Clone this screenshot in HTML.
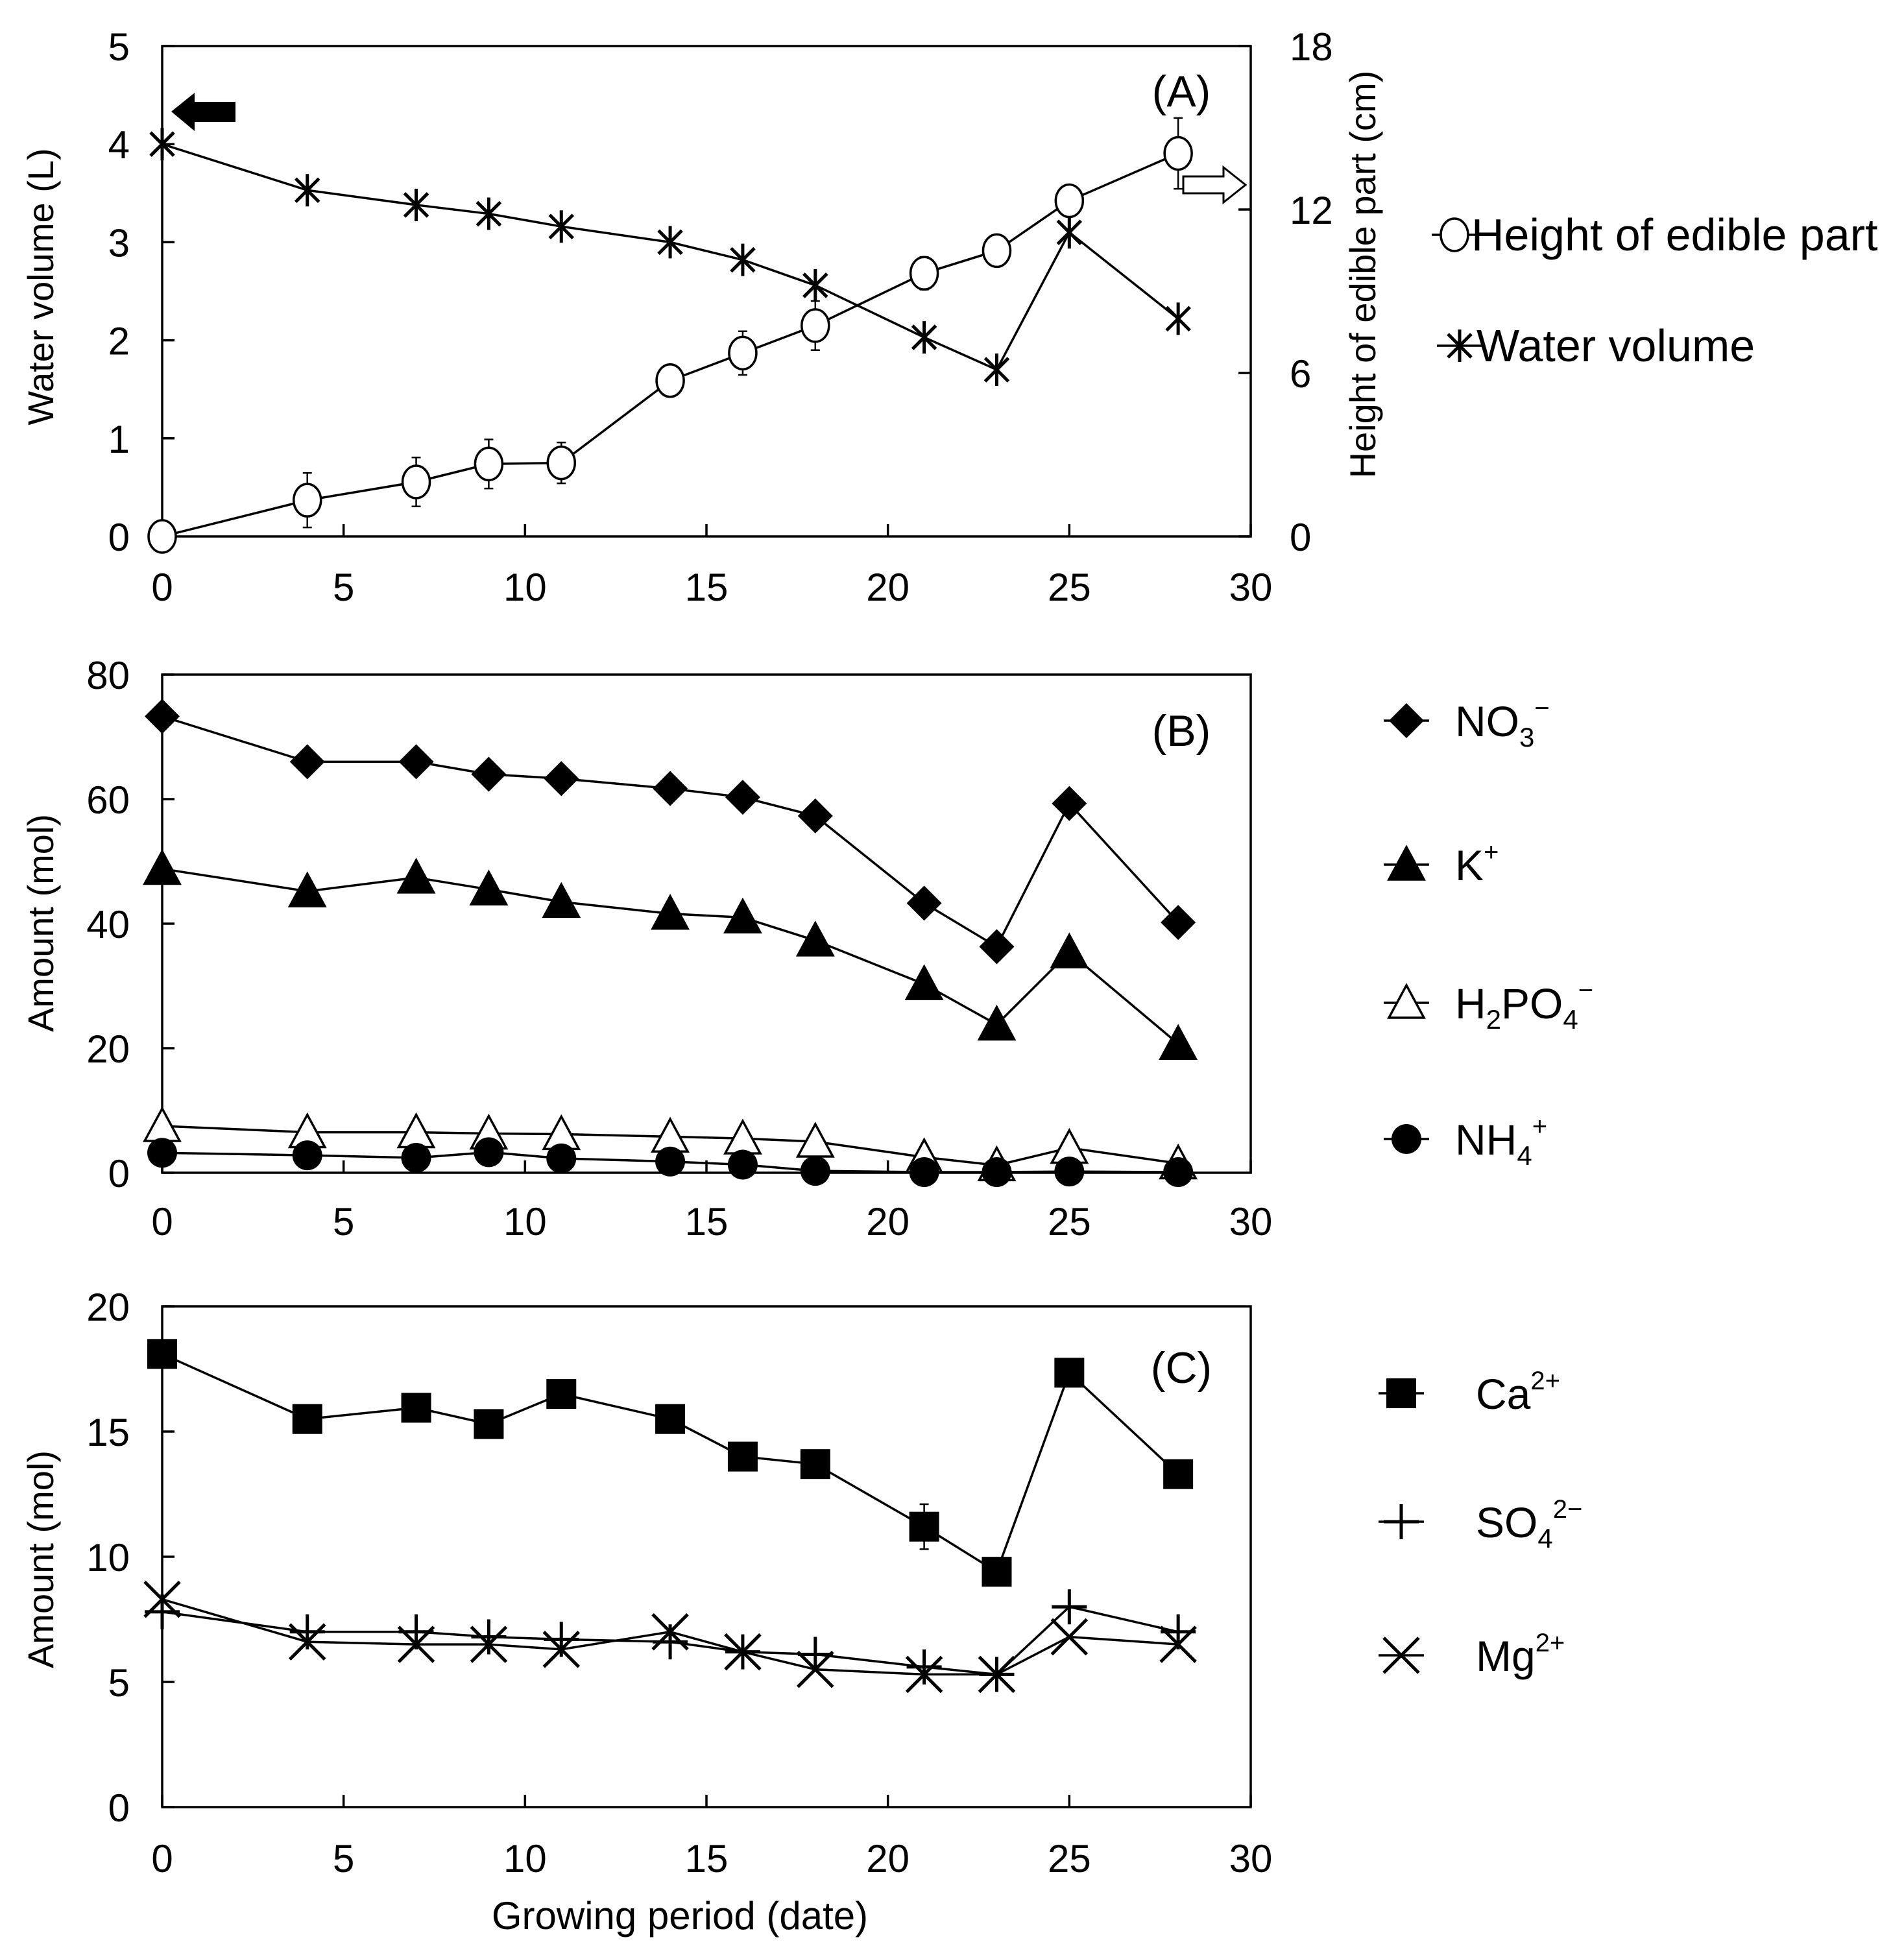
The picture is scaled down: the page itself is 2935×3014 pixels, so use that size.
<!DOCTYPE html>
<html><head><meta charset="utf-8"><style>
html,body{margin:0;padding:0;background:#fff;}
svg{display:block;font-family:"Liberation Sans",Arial,sans-serif;}
</style></head><body>
<svg id="fig" xmlns="http://www.w3.org/2000/svg" width="2935" height="3014" viewBox="0 0 2935 3014"></svg>
<script>
const days = [0,4,7,9,11,14,16,18,21,23,25,28];
const waterVolume = [4.0,3.53,3.38,3.29,3.16,3.0,2.82,2.56,2.03,1.7,3.1,2.22];
const heightEdible = [0,1.33,2.0,2.66,2.7,5.72,6.73,7.74,9.66,10.49,12.32,14.06];
const heightErr = [0,1.0,0.9,0.9,0.75,0.3,0.8,0.9,0.6,0.55,0.45,1.3];
const no3 = [73.3,66,66,64,63.3,61.7,60.3,57.3,43.3,36.3,59.3,40.2];
const kPlus = [48.8,45.2,47.4,45.5,43.5,41.6,41,37.3,30.3,23.8,35.4,20.7];
const h2po4 = [7.5,6.5,6.5,6.3,6.2,5.8,5.5,5.0,2.5,1.2,4,1.5];
const nh4 = [3.2,2.8,2.4,3.3,2.3,1.8,1.3,0.3,0.1,0.1,0.2,0.1];
const ca = [18.1,15.5,15.95,15.3,16.5,15.5,14.0,13.7,11.2,9.4,17.35,13.3];
const caErr = [0,0,0,0,0,0,0,0,0.9,0,0,0];
const so4 = [7.8,7.0,7.0,6.8,6.7,6.6,6.2,6.1,5.6,5.3,8.0,7.0];
const mg = [8.3,6.6,6.5,6.5,6.3,7.0,6.2,5.5,5.3,5.3,6.8,6.5];
const xTicks = [0,5,10,15,20,25,30];
const ticksA = [0,1,2,3,4,5];
const ticksAR = [0,6,12,18];
const ticksB = [0,20,40,60,80];
const ticksC = [0,5,10,15,20];

const NS="http://www.w3.org/2000/svg";
const svg=document.getElementById('fig');
function el(tag,attrs,parent){const e=document.createElementNS(NS,tag);for(const k in attrs)e.setAttribute(k,attrs[k]);(parent||svg).appendChild(e);return e;}
const X0=250,X1=1928;
function sx(v){return X0+(v/30)*(X1-X0);}
function mkY(y0,y1,max){return v=>y0-(v/max)*(y0-y1);}
const LW=3.5;
const TF=60;

function marker(type,x,y,g){
  const s=27;
  if(type==='circle'){el('ellipse',{cx:x,cy:y,rx:21,ry:25,fill:'#fff',stroke:'#000','stroke-width':LW},g);}
  else if(type==='diamond'){el('polygon',{points:`${x},${y-s} ${x+s},${y} ${x},${y+s} ${x-s},${y}`,fill:'#000'},g);}
  else if(type==='tri'||type==='otri'){el('polygon',{points:`${x},${y-s} ${x+s},${y+s*0.85} ${x-s},${y+s*0.85}`,fill:type==='tri'?'#000':'#fff',stroke:'#000','stroke-width':LW},g);}
  else if(type==='dot'){el('circle',{cx:x,cy:y,r:23,fill:'#000'},g);}
  else if(type==='square'){el('rect',{x:x-23,y:y-23,width:46,height:46,fill:'#000'},g);}
  else if(type==='plus'){el('path',{d:`M${x-s} ${y}H${x+s}M${x} ${y-s}V${y+s}`,stroke:'#000','stroke-width':LW+1.5,fill:'none'},g);}
  else if(type==='x'){el('path',{d:`M${x-s} ${y-s}L${x+s} ${y+s}M${x-s} ${y+s}L${x+s} ${y-s}`,stroke:'#000','stroke-width':LW+1.5,fill:'none'},g);}
  else if(type==='star'){const d=25,e=18;el('path',{d:`M${x} ${y-d}V${y+d}M${x-e} ${y-e}L${x+e} ${y+e}M${x-e} ${y+e}L${x+e} ${y-e}`,stroke:'#000','stroke-width':LW+1.5,fill:'none'},g);}
}
function series(name,vals,sy,type,errs){
  const g=el('g',{});
  
  
  el('polyline',{points:vals.map((v,i)=>sx(days[i])+','+sy(v)).join(' '),fill:'none',stroke:'#000','stroke-width':LW},g);
  if(errs){vals.forEach((v,i)=>{if(errs[i]>0){const x=sx(days[i]);el('path',{d:`M${x} ${sy(v+errs[i])}V${sy(v-errs[i])}M${x-7} ${sy(v+errs[i])}H${x+7}M${x-7} ${sy(v-errs[i])}H${x+7}`,stroke:'#000','stroke-width':2.5},g);}});}
  vals.forEach((v,i)=>marker(type,sx(days[i]),sy(v),g));
}
function text(str,x,y,size,anchor,name,extra){
  const t=el('text',Object.assign({x:x,y:y,'font-size':size,'text-anchor':anchor||'middle',fill:'#000'},extra||{}));
  t.textContent=str;
  
  
  return t;
}
function frame(name,y0,y1,sy,ticks,xLabY){
  const g=el('g',{});
  
  
  el('rect',{x:X0,y:y1,width:X1-X0,height:y0-y1,fill:'none',stroke:'#000','stroke-width':LW},g);
  xTicks.forEach(t=>{el('line',{x1:sx(t),x2:sx(t),y1:y0,y2:y0-19,stroke:'#000','stroke-width':LW},g);
    text(String(t),sx(t),xLabY,TF,'middle','x-tick-label');});
  ticks.forEach(t=>{el('line',{x1:X0,x2:X0+19,y1:sy(t),y2:sy(t),stroke:'#000','stroke-width':LW},g);
    text(String(t),200,sy(t)+22,TF,'end','y-tick-label');});
}

// Panel A
const syA=mkY(827,71,5), syAR=mkY(827,71,18);
frame('panel-a-axes',827,71,syA,ticksA,926);
ticksAR.forEach(t=>{el('line',{x1:X1,x2:X1-19,y1:syAR(t),y2:syAR(t),stroke:'#000','stroke-width':LW});
  text(String(t),1988,syAR(t)+22,TF,'start','right-y-tick-label');});
series('height-series',heightEdible,syAR,'circle',heightErr);
series('water-volume-series',waterVolume,syA,'star');
text('Water volume (L)',82,442,56,'middle','y-axis-title-a',{transform:'rotate(-90 82 442)'});
text('Height of edible part (cm)',2120,423,56,'middle','right-y-axis-title',{transform:'rotate(-90 2120 423)'});
text('(A)',1821,164,68,'middle','panel-label-a');
const la=el('polygon',{points:'264,172 300,143 300,157 363,157 363,188 300,188 300,202',fill:'#000'});

const ra=el('polygon',{points:'1920,285 1886,258 1886,272 1824,272 1824,298 1886,298 1886,312',fill:'#fff',stroke:'#000','stroke-width':3});


function legend(name,type,x,y,label,sub,sup,textX,fs){
  fs=fs||66;
  const g=el('g',{});
  
  
  el('line',{x1:x-35,x2:x+35,y1:y,y2:y,stroke:'#000','stroke-width':LW},g);
  marker(type,x,y,g);
  const t=el('text',{x:textX,y:y+24,'font-size':fs,fill:'#000'},g);
  t.textContent=label;
  if(sub){const s=el('tspan',{'font-size':42,dy:16},t);s.textContent=sub;}
  if(sup){const s=el('tspan',{'font-size':40,dy:sub?-46:-30},t);s.textContent=sup;}
  return t;
}
legend('legend-height','circle',2242,362,'Height of edible part',null,null,2268,70);
legend('legend-water-volume','star',2250,533,'Water volume',null,null,2276,70);

// Panel B
const syB=mkY(1808,1040,80);
frame('panel-b-axes',1808,1040,syB,ticksB,1904);
series('no3-series',no3,syB,'diamond');
series('k-series',kPlus,syB,'tri');
series('h2po4-series',h2po4,syB,'otri');
series('nh4-series',nh4,syB,'dot');
text('Amount (mol)',82,1423,56,'middle','y-axis-title-b',{transform:'rotate(-90 82 1423)'});
text('(B)',1821,1150,68,'middle','panel-label-b');
legend('legend-no3','diamond',2168,1111,'NO','3','\u2212',2243);
legend('legend-k','tri',2168,1333,'K',null,'+',2243);
(function(){const t=legend('legend-h2po4','otri',2168,1546,'',null,null,2243);
 const a=el('tspan',{},t);a.textContent='H';const b=el('tspan',{'font-size':42,dy:16},t);b.textContent='2';
 const c=el('tspan',{dy:-16},t);c.textContent='PO';const d=el('tspan',{'font-size':42,dy:16},t);d.textContent='4';
 const e=el('tspan',{'font-size':40,dy:-46},t);e.textContent='\u2212';})();
legend('legend-nh4','dot',2168,1756,'NH','4','+',2243);

// Panel C
const syC=mkY(2786,2014,20);
frame('panel-c-axes',2786,2014,syC,ticksC,2886);
series('ca-series',ca,syC,'square',caErr);
series('so4-series',so4,syC,'plus');
series('mg-series',mg,syC,'x');
text('Amount (mol)',82,2404,56,'middle','y-axis-title-c',{transform:'rotate(-90 82 2404)'});
text('(C)',1821,2132,68,'middle','panel-label-c');
legend('legend-ca','square',2160,2148,'Ca',null,'2+',2275);
legend('legend-so4','plus',2160,2346,'SO','4','2\u2212',2275);
legend('legend-mg','x',2160,2552,'Mg',null,'2+',2275);
text('Growing period (date)',1048,2974,60,'middle','x-axis-title');
</script>
</body></html>
